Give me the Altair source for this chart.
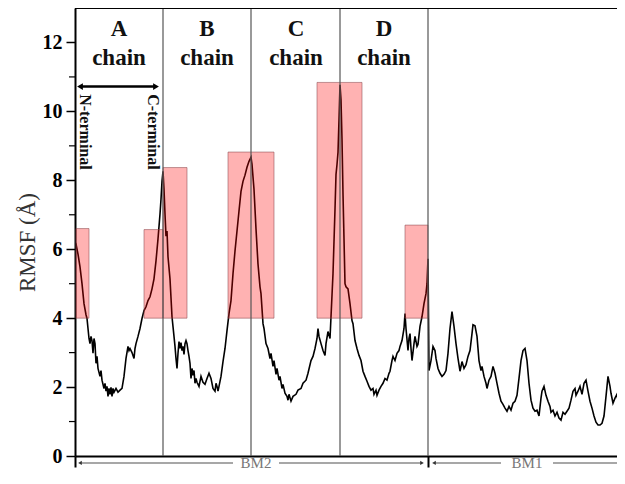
import altair as alt
import pandas as pd

# ---------------- data ----------------
residue = [0, 1, 3, 5, 7, 9, 11, 12, 13, 14, 15, 16, 17, 18, 19, 20, 21, 22, 23, 25, 26, 27, 29, 30,
           31, 32, 33, 34, 35, 36, 37, 38, 39, 41, 43, 45, 47, 49, 51, 53, 54, 55, 57, 59, 60, 61,
           63, 65, 67, 69, 71, 73, 75, 77, 79, 81, 83, 85, 86, 87, 88, 89, 90, 91, 92, 93, 95, 97,
           99, 100, 101, 102, 103, 104, 105, 106, 107, 108, 109, 110, 111, 112, 113, 114, 115, 116,
           117, 118, 119, 120, 121, 122, 124, 126, 128, 130, 132, 134, 136, 138, 140, 141, 142,
           143, 144, 146, 148, 150, 152, 154, 156, 158, 160, 162, 164, 166, 168, 170, 172, 174,
           176, 177, 179, 181, 183, 185, 186, 188, 189, 191, 193, 195, 196, 198, 199, 201, 202,
           204, 205, 207, 208, 210, 212, 213, 214, 216, 218, 221, 223, 226, 228, 231, 233, 236,
           238, 240, 242, 243, 244, 246, 248, 250, 251, 253, 255, 256, 258, 260, 261, 262, 263,
           264, 265, 266, 267, 268, 269, 270, 271, 273, 275, 277, 278, 280, 282, 284, 286, 288,
           290, 292, 294, 296, 298, 299, 301, 302, 304, 306, 308, 310, 312, 314, 315, 317, 318,
           320, 322, 324, 325, 327, 329, 330, 331, 333, 334, 335, 336, 337, 339, 340, 342, 343,
           345, 347, 349, 351, 352, 353, 354, 356, 358, 360, 361, 363, 365, 367, 369, 371, 373,
           375, 377, 379, 381, 383, 385, 387, 389, 391, 393, 395, 397, 398, 400, 402, 404, 406,
           407, 409, 411, 412, 414, 416, 418, 420, 422, 424, 426, 428, 430, 432, 434, 436, 438,
           440, 442, 444, 446, 448, 450, 452, 454, 456, 458, 460, 462, 464, 466, 467, 469, 471,
           473, 475, 476, 478, 480, 482, 484, 486, 488, 490, 492, 494, 496, 498, 500, 501, 503,
           505, 507, 509, 511, 513, 515, 517, 519, 521, 523, 525, 527, 529, 531, 533, 535, 536,
           538, 540, 542, 544, 546, 548, 550]
rmsf = [6.21, 6.15, 5.86, 5.49, 5.00, 4.42, 4.10, 3.99, 3.70, 3.41, 3.26, 3.47, 3.35, 2.98, 3.41,
        3.26, 2.69, 2.89, 2.54, 2.31, 2.48, 2.20, 1.96, 2.11, 1.88, 2.02, 1.73, 1.96, 1.79, 1.99,
        1.73, 1.96, 1.85, 1.96, 1.85, 1.91, 1.96, 2.31, 2.83, 3.18, 3.06, 3.12, 3.00, 2.83, 3.12,
        3.26, 3.47, 3.70, 3.99, 4.22, 4.33, 4.51, 4.62, 4.85, 5.14, 5.66, 6.30, 7.02, 7.45, 7.97,
        8.26, 7.74, 7.02, 6.38, 6.53, 5.78, 5.14, 4.04, 3.47, 3.18, 2.83, 2.54, 2.98, 3.32, 3.12,
        3.29, 3.06, 3.18, 2.95, 3.26, 3.35, 3.26, 3.06, 2.89, 2.69, 2.25, 2.54, 2.34, 2.48, 2.11,
        2.25, 2.14, 2.02, 2.31, 2.14, 2.08, 2.25, 2.40, 2.25, 1.96, 1.88, 2.11, 2.02, 1.88, 2.02,
        2.31, 2.74, 3.12, 3.64, 4.13, 4.51, 5.29, 5.95, 6.53, 7.11, 7.68, 7.97, 8.15, 8.38, 8.55,
        8.67, 8.46, 7.74, 6.59, 5.57, 4.91, 4.71, 3.84, 3.70, 3.26, 3.12, 2.83, 2.98, 2.60, 2.77,
        2.37, 2.54, 2.20, 2.31, 1.96, 2.08, 1.82, 1.73, 1.62, 1.79, 1.59, 1.73, 1.79, 1.91, 1.96,
        2.11, 2.20, 2.40, 2.77, 2.89, 3.12, 3.41, 3.70, 3.47, 3.26, 3.06, 2.92, 3.26, 3.61, 3.41,
        4.04, 5.29, 7.16, 8.17, 8.46, 8.81, 9.76, 10.77, 10.34, 9.19, 7.60, 6.30, 5.00, 4.91,
        4.85, 4.42, 3.93, 3.84, 3.35, 3.12, 2.92, 2.77, 2.46, 2.31, 2.17, 2.02, 1.91, 1.96, 1.79,
        1.91, 1.76, 1.91, 2.02, 2.11, 2.25, 2.20, 2.40, 2.46, 2.77, 2.89, 2.77, 2.98, 3.06, 3.18,
        3.35, 3.70, 4.13, 3.70, 3.06, 3.41, 3.55, 3.12, 2.77, 3.26, 3.47, 3.18, 3.24, 3.76, 4.04,
        4.42, 4.71, 5.00, 5.72, 2.48, 2.77, 3.18, 3.06, 2.83, 2.54, 2.40, 2.31, 2.37, 2.48, 2.98,
        3.70, 4.19, 3.76, 3.26, 2.83, 2.46, 2.74, 2.54, 2.65, 2.89, 3.06, 3.55, 3.81, 3.78, 3.47,
        2.77, 2.48, 2.60, 2.31, 2.11, 1.96, 2.20, 2.31, 2.60, 2.40, 2.11, 1.82, 1.59, 1.50, 1.39,
        1.30, 1.44, 1.33, 1.53, 1.59, 1.76, 2.25, 2.77, 3.06, 3.12, 2.77, 2.11, 1.62, 1.39, 1.30,
        1.33, 1.16, 1.68, 1.88, 2.02, 1.76, 1.59, 1.44, 1.27, 1.33, 1.16, 1.27, 1.10, 1.04, 1.27,
        1.21, 1.30, 1.39, 1.62, 1.88, 1.96, 1.76, 1.88, 2.02, 1.79, 2.11, 2.20, 1.88, 1.59, 1.39,
        1.16, 0.98, 0.90, 0.90, 0.95, 1.16, 1.73, 2.31, 2.02, 1.82, 1.53, 1.68, 1.79, 1.44, 1.62,
        1.53, 1.59]

chain_bounds = [88, 176, 265, 353]
chain_names = ["A", "B", "C", "D"]
chain_centers = [44, 132, 221, 309]

box_start = [1, 69, 88, 153, 242, 330]
box_end = [14, 88, 112, 199, 287, 353]
box_low = [4, 4, 4, 4, 4, 4]
box_high = [6.6, 6.57, 8.37, 8.82, 10.84, 6.7]

y_major = [0, 2, 4, 6, 8, 10, 12]
y_minor = [1, 3, 5, 7, 9, 11]

X_MAX = 542
Y_MAX = 13
FONT = "Liberation Serif"

# ---------------- frames ----------------
line_df = pd.DataFrame({"res": residue, "rmsf": rmsf})
box_df = pd.DataFrame({"x": box_start, "x2": box_end, "y": box_low, "y2": box_high})
bound_df = pd.DataFrame({"x": chain_bounds})
name_df = pd.DataFrame({"x": chain_centers, "name": chain_names})
minor_df = pd.DataFrame({"y": y_minor})

xs = alt.Scale(domain=[0, X_MAX], nice=False, zero=False)
ys = alt.Scale(domain=[0, Y_MAX], nice=False)

base_x = alt.X("res:Q", scale=xs,
               axis=alt.Axis(values=[0, 353], labels=False, title=None, grid=False,
                             tickSize=11, tickWidth=2, tickColor="black",
                             domainColor="black", domainWidth=2))
base_y = alt.Y("rmsf:Q", scale=ys,
               axis=alt.Axis(values=y_major, title="RMSF (Å)", grid=False,
                             tickSize=9, tickWidth=1.5, tickColor="black",
                             domainColor="black", domainWidth=2,
                             labelFont=FONT, labelFontSize=20, labelFontWeight="bold",
                             labelColor="black", labelPadding=4,
                             titleFont=FONT, titleFontSize=23, titleFontWeight="normal",
                             titleColor="#333333", titleX=-48, titleY=234,
                             titleAngle=270, titleAlign="center", titleBaseline="middle"))

line = alt.Chart(line_df).mark_line(color="black", strokeWidth=1.6, clip=True).encode(
    x=base_x, y=base_y)

boxes = alt.Chart(box_df).mark_rect(fill="#ff0000", fillOpacity=0.3,
                                    stroke="#8a4a50", strokeOpacity=0.55,
                                    strokeWidth=1).encode(
    x=alt.X("x:Q", scale=xs), x2="x2:Q",
    y=alt.Y("y:Q", scale=ys), y2="y2:Q")

bounds = alt.Chart(bound_df).mark_rule(color="#555555", strokeWidth=1.2).encode(
    x=alt.X("x:Q", scale=xs), y=alt.datum(0), y2=alt.datum(Y_MAX))

top_border = alt.Chart(pd.DataFrame({"a": [0]})).mark_rule(
    color="black", strokeWidth=2, clip=True).encode(
    x=alt.datum(0), x2=alt.datum(X_MAX), y=alt.datum(Y_MAX))

chain_letter = alt.Chart(name_df).mark_text(
    font=FONT, fontSize=23, fontWeight="bold", color="#111111",
    baseline="alphabetic").encode(
    x=alt.X("x:Q", scale=xs), y=alt.datum(12.19), text="name:N")
chain_word = alt.Chart(name_df).mark_text(
    font=FONT, fontSize=23, fontWeight="bold", color="#111111",
    baseline="alphabetic").encode(
    x=alt.X("x:Q", scale=xs), y=alt.datum(11.35), text=alt.value("chain"))

arrow = alt.Chart(pd.DataFrame({"a": [0]})).mark_rule(
    color="black", strokeWidth=2.5).encode(
    x=alt.datum(5), x2=alt.datum(80), y=alt.datum(10.72))
arrow_heads = alt.Chart(pd.DataFrame({"x": [5, 81], "shape": ["triangle-left", "triangle-right"]})).mark_point(
    filled=True, color="black", size=45, opacity=1).encode(
    x=alt.X("x:Q", scale=xs), y=alt.datum(10.72),
    shape=alt.Shape("shape:N", scale=None, legend=None))

term_df = pd.DataFrame({"x": [10, 77.5], "t": ["N-terminal", "C-terminal"]})
term_text = alt.Chart(term_df).mark_text(
    font=FONT, fontSize=16, fontWeight="bold", color="#111111",
    angle=90, align="left", baseline="middle").encode(
    x=alt.X("x:Q", scale=xs), y=alt.datum(10.5), text="t:N")

minor = alt.Chart(minor_df).mark_rule(color="black", strokeWidth=1.2).encode(
    y=alt.Y("y:Q", scale=ys), x=alt.value(-6), x2=alt.value(0))

# region brackets below the axis
BM_Y = -0.2
seg_df = pd.DataFrame({"x": [5, 204, 359, 478], "x2": [158, 347, 426, 542]})
segs = alt.Chart(seg_df).mark_rule(color="#8a8a8a", strokeWidth=1.5).encode(
    x=alt.X("x:Q", scale=xs), x2="x2:Q", y=alt.datum(BM_Y))
tips_df = pd.DataFrame({"x": [5, 347, 359],
                        "shape": ["triangle-left", "triangle-right", "triangle-left"]})
tips = alt.Chart(tips_df).mark_point(filled=True, color="#333333", size=18, opacity=1).encode(
    x=alt.X("x:Q", scale=xs), y=alt.datum(BM_Y),
    shape=alt.Shape("shape:N", scale=None, legend=None))
bm_df = pd.DataFrame({"x": [181, 452], "t": ["BM2", "BM1"]})
bm_text = alt.Chart(bm_df).mark_text(font=FONT, fontSize=15, color="#777777",
                                     baseline="middle").encode(
    x=alt.X("x:Q", scale=xs), y=alt.datum(BM_Y), text="t:N")

chart = alt.layer(
    line, boxes, bounds, top_border, chain_letter, chain_word, arrow, arrow_heads,
    term_text, minor, segs, tips, bm_text
).properties(
    width=542, height=448,
    padding={"left": 67, "top": 0, "right": 0, "bottom": 14},
    autosize=alt.AutoSizeParams(type="none"),
).configure_view(stroke=None).configure(background="white")

chart.save("out.html", embed_options={"renderer": "svg", "actions": False})
